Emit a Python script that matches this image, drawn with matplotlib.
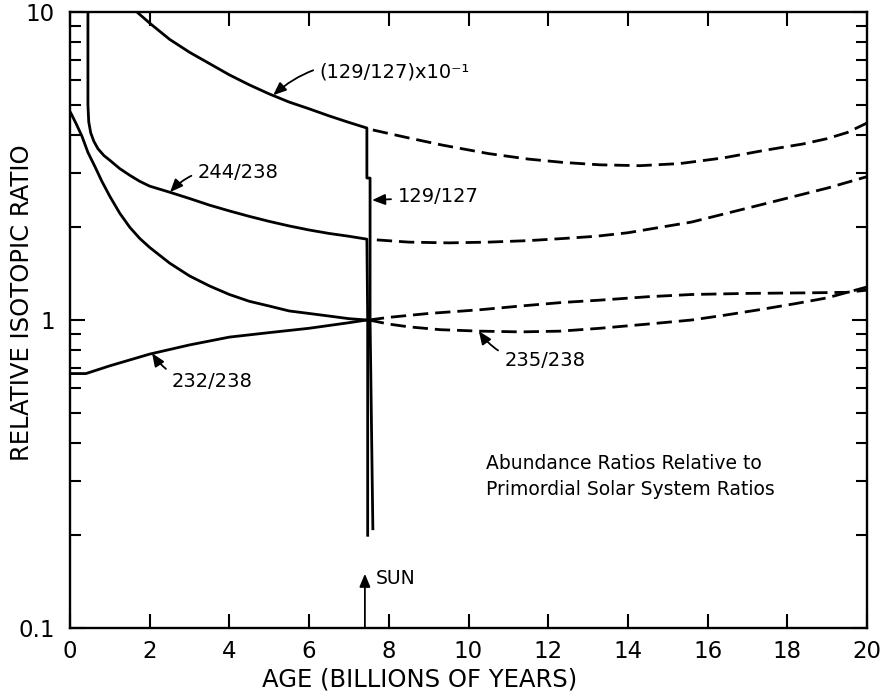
import matplotlib
matplotlib.use("Agg")
import matplotlib.pyplot as plt
from matplotlib.ticker import FixedLocator, NullFormatter

# ---- data (age in billions of years, ratio relative to primordial) ----
age_235_solid = [0.02, 0.15, 0.3, 0.45, 0.63, 0.8, 1.0, 1.25, 1.5, 1.75, 2.0, 2.5,
                 3.0, 3.5, 4.0, 4.5, 5.0, 5.5, 6.0, 6.5, 7.0, 7.45]
ratio_235_solid = [4.7, 4.35, 3.95, 3.5, 3.14, 2.82, 2.52, 2.22, 2.0, 1.84, 1.72, 1.53,
                   1.39, 1.29, 1.21, 1.15, 1.11, 1.07, 1.05, 1.03, 1.01, 1.0]

age_232_solid = [0.0, 0.4, 1.0, 2.0, 3.0, 4.0, 5.0, 6.0, 7.0, 7.45]
ratio_232_solid = [0.67, 0.67, 0.71, 0.775, 0.83, 0.88, 0.91, 0.94, 0.98, 1.0]

age_244_solid = [0.45, 0.45, 0.47, 0.52, 0.6, 0.7, 0.85, 1.0, 1.25, 1.5, 1.75, 2.0, 2.5,
                 3.0, 3.5, 4.0, 4.5, 5.0, 5.5, 6.0, 6.5, 7.0, 7.45, 7.47, 7.47]
ratio_244_solid = [12.0, 5.0, 4.4, 4.05, 3.8, 3.6, 3.42, 3.3, 3.1, 2.95, 2.82, 2.72, 2.6,
                   2.48, 2.36, 2.26, 2.17, 2.09, 2.02, 1.96, 1.91, 1.87, 1.83, 1.0, 0.2]

age_129_solid = [1.5, 1.68, 2.0, 2.5, 3.0, 3.5, 4.0, 4.5, 5.0, 5.5, 6.0, 6.5, 7.0, 7.45,
                 7.45, 7.53, 7.53, 7.6]
ratio_129_solid = [11.0, 10.0, 9.2, 8.15, 7.4, 6.8, 6.25, 5.8, 5.42, 5.1, 4.85, 4.6, 4.38,
                   4.2, 2.89, 2.89, 1.0, 0.21]

age_129_dash = [7.6, 8.5, 9.33, 10.5, 11.5, 12.35, 13.3, 14.3, 15.3, 16.4, 17.4, 18.4,
                19.0, 19.5, 20.0]
ratio_129_dash = [4.14, 3.9, 3.7, 3.47, 3.33, 3.25, 3.19, 3.17, 3.22, 3.36, 3.55, 3.73,
                  3.88, 4.06, 4.36]

age_244_dash = [7.7, 8.5, 9.5, 10.5, 11.5, 12.4, 13.2, 14.0, 15.6, 17.3, 19.0, 20.0]
ratio_244_dash = [1.82, 1.79, 1.78, 1.79, 1.81, 1.84, 1.87, 1.92, 2.08, 2.36, 2.68, 2.92]

age_232_dash = [7.5, 8.0, 9.0, 10.3, 11.3, 12.35, 13.3, 14.5, 15.6, 17.0, 18.5, 19.5, 20.0]
ratio_232_dash = [1.0, 1.02, 1.05, 1.08, 1.11, 1.14, 1.16, 1.19, 1.21, 1.22, 1.225, 1.23,
                  1.25]

age_235_dash = [7.5, 8.0, 8.5, 9.3, 10.3, 11.3, 12.3, 13.3, 14.5, 15.6, 16.5, 17.3, 18.2,
                19.0, 20.0]
ratio_235_dash = [1.0, 0.97, 0.95, 0.93, 0.92, 0.915, 0.92, 0.94, 0.97, 1.0, 1.04, 1.08,
                  1.13, 1.18, 1.28]

sun_age = 7.4

x_ticks = [0, 2, 4, 6, 8, 10, 12, 14, 16, 18, 20]
y_ticks = [0.1, 1, 10]
y_tick_labels = ["0.1", "1", "10"]

LW = 2.0
DASH = (5.5, 2.5)

fig = plt.figure(figsize=(8.81, 6.96), dpi=100)
ax = fig.add_axes([70 / 881, 1 - 628 / 696, 797 / 881, 616 / 696])

ax.set_yscale("log")
ax.set_xlim(0, 20)
ax.set_ylim(0.1, 10)

for a, r in [(age_235_solid, ratio_235_solid), (age_232_solid, ratio_232_solid),
             (age_244_solid, ratio_244_solid), (age_129_solid, ratio_129_solid)]:
    ax.plot(a, r, color="k", lw=LW, solid_joinstyle="round")

for a, r in [(age_129_dash, ratio_129_dash), (age_244_dash, ratio_244_dash),
             (age_232_dash, ratio_232_dash), (age_235_dash, ratio_235_dash)]:
    ax.plot(a, r, color="k", lw=LW, dashes=DASH)

# axes frame and ticks
for s in ax.spines.values():
    s.set_linewidth(1.7)
ax.xaxis.set_major_locator(FixedLocator(x_ticks))
ax.yaxis.set_major_locator(FixedLocator(y_ticks))
ax.set_yticklabels(y_tick_labels)
ax.yaxis.set_minor_locator(FixedLocator(
    [m * d for d in (0.1, 1) for m in range(2, 10)]))
ax.yaxis.set_minor_formatter(NullFormatter())
ax.tick_params(which="both", direction="in", top=True, right=True, width=1.5,
               labelsize=16.5)
ax.tick_params(axis="x", which="major", length=10, pad=9)
ax.tick_params(axis="y", which="major", length=11, pad=11)
ax.tick_params(axis="y", which="minor", length=8)

fig.text(420 / 881, 1 - 680 / 696, "AGE (BILLIONS OF YEARS)", ha="center",
         va="center", fontsize=17.5)
fig.text(22 / 881, 1 - 303 / 696, "RELATIVE ISOTOPIC RATIO", ha="center",
         va="center", rotation=90, fontsize=17.5)

arrow = dict(arrowstyle="-|>,head_length=0.6,head_width=0.25", color="k",
             lw=1.3, mutation_scale=13, shrinkA=3, shrinkB=0)
lbl = dict(fontsize=14, ha="left", va="center")

ax.annotate("(129/127)x10\u207b\u00b9", xy=(5.1, 5.37), xytext=(6.27, 6.38),
            arrowprops=dict(arrow, connectionstyle="arc3,rad=0.3"), **lbl)
ax.annotate("244/238", xy=(2.51, 2.6), xytext=(3.21, 3.02),
            arrowprops=dict(arrow, connectionstyle="arc3,rad=0.3"), **lbl)
ax.annotate("129/127", xy=(7.58, 2.45), xytext=(8.23, 2.51),
            arrowprops=dict(arrow, connectionstyle="arc3,rad=0"), **lbl)
ax.annotate("232/238", xy=(2.06, 0.78), xytext=(2.56, 0.63),
            arrowprops=dict(arrow, connectionstyle="arc3,rad=-0.3"), **lbl)
ax.annotate("235/238", xy=(10.26, 0.92), xytext=(10.9, 0.74),
            arrowprops=dict(arrow, connectionstyle="arc3,rad=-0.3"), **lbl)

ax.annotate("", xy=(sun_age, 0.15), xytext=(sun_age, 0.1),
            arrowprops=dict(arrow, shrinkA=0))
ax.text(sun_age + 0.28, 0.145, "SUN", fontsize=13.5, ha="left", va="center")

ax.text(10.45, 0.31, "Abundance Ratios Relative to\nPrimordial Solar System Ratios",
        fontsize=13.5, ha="left", va="center", linespacing=1.5)

fig.savefig("out.png", dpi=100)
